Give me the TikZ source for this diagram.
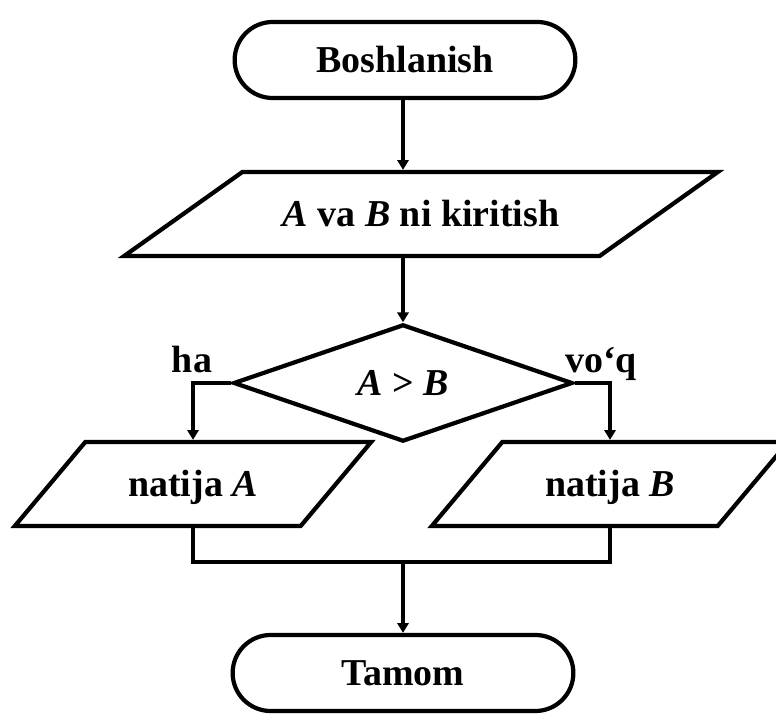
\documentclass[tikz,border=0pt]{standalone}
\usepackage{fontspec}
\setmainfont{Liberation Serif}
\usetikzlibrary{arrows.meta,positioning,shapes.geometric,shapes.misc}
\tikzset{
  term/.style={rounded rectangle, draw, line width=3pt, minimum width=8.75cm, minimum height=1.9cm},
  io/.style={trapezium, draw, line width=3pt, inner ysep=0pt, text height=1.36cm, text depth=0.74cm},
  cond/.style={diamond, draw, line width=3pt, minimum width=8.48cm, minimum height=2.93cm, inner sep=0pt},
  lab/.style={font=\bfseries\fontsize{27}{30}\selectfont, text=black},
  arr/.style={-{Triangle[length=7pt,width=8pt]}, line width=2.6pt},
  wire/.style={line width=2.6pt}
}

\begin{document}
\begin{tikzpicture}[x=0.025cm,y=-0.025cm]
\useasboundingbox (0,0) rectangle (776,714);

% ---------------- start / input ----------------
\node[term, lab] (start) at (405,60) {Boshlanish};
\node[io, lab, trapezium left angle=35.4, trapezium right angle=144.6, inner xsep=1.01cm] (inp) at (421,214)
  {\textit{A} va \textit{B} ni kiritish};

% ---------------- condition ----------------
\node[cond, lab] (dec) at (403,383) {\textit{A} > \textit{B}};
\node[lab, anchor=base] (yes) at (192,373) {ha};
\node[lab, anchor=base] (no) at (601,373) {vo‘q};

% ---------------- outputs ----------------
\node[io, lab, trapezium left angle=50, trapezium right angle=130, inner xsep=1.07cm] (outA) at (193,484) {natija \textit{A}};
\node[io, lab, trapezium left angle=50, trapezium right angle=130, inner xsep=1.07cm] (outB) at (610,484) {natija \textit{B}};

% ---------------- end ----------------
\coordinate (join) at (403,562);
\node[term, lab] (fin) at (403,673) {Tamom};

% ---------------- connectors ----------------
\draw[arr] (dec.north |- start.south) -- (dec.north |- inp.north);
\draw[arr] (dec.north |- inp.south) -- (dec.north);
\draw[arr] (dec.west) -| (outA.north);
\draw[arr] (dec.east) -| (outB.north);
\draw[wire] (outA.south) |- (join) -| (outB.south);
\draw[arr] (join) -- (fin.north);

\end{tikzpicture}
\end{document}
